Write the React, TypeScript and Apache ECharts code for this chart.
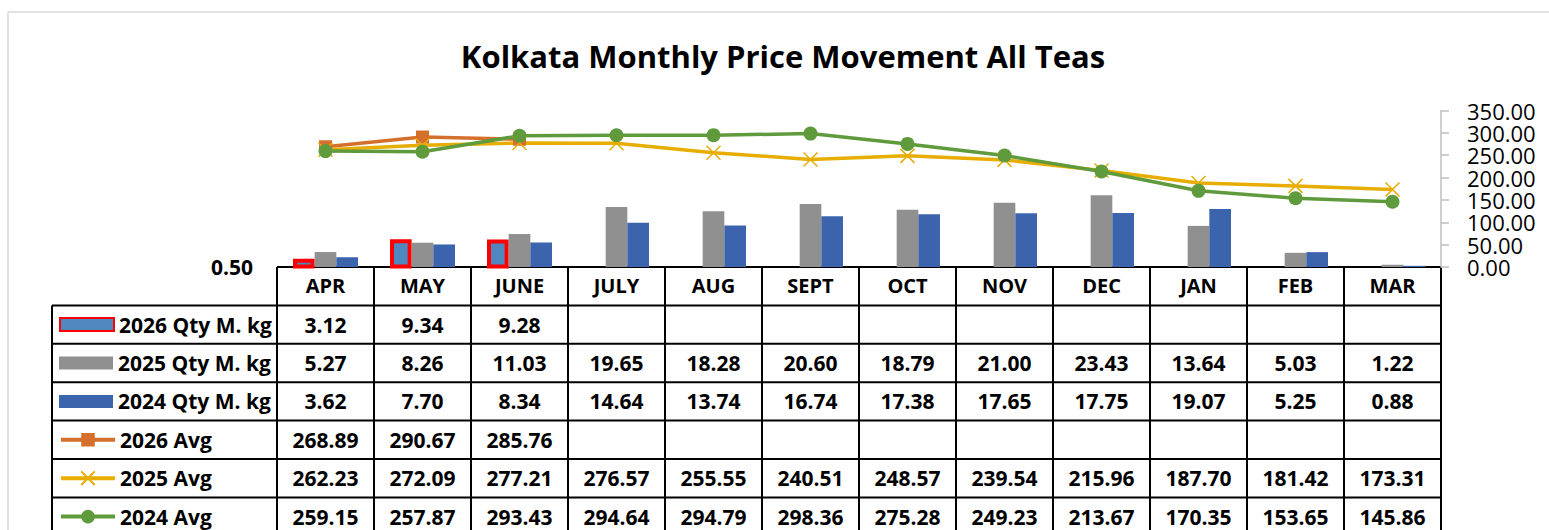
import React, { useEffect, useRef } from "react";
import * as echarts from "echarts";

const CATEGORIES = ["APR", "MAY", "JUNE", "JULY", "AUG", "SEPT", "OCT", "NOV", "DEC", "JAN", "FEB", "MAR"];
const QTY_2026: (number | null)[] = [3.12, 9.34, 9.28, null, null, null, null, null, null, null, null, null];
const QTY_2025: (number | null)[] = [5.27, 8.26, 11.03, 19.65, 18.28, 20.6, 18.79, 21.0, 23.43, 13.64, 5.03, 1.22];
const QTY_2024: (number | null)[] = [3.62, 7.7, 8.34, 14.64, 13.74, 16.74, 17.38, 17.65, 17.75, 19.07, 5.25, 0.88];
const AVG_2026: (number | null)[] = [268.89, 290.67, 285.76, null, null, null, null, null, null, null, null, null];
const AVG_2025: (number | null)[] = [262.23, 272.09, 277.21, 276.57, 255.55, 240.51, 248.57, 239.54, 215.96, 187.7, 181.42, 173.31];
const AVG_2024: (number | null)[] = [259.15, 257.87, 293.43, 294.64, 294.79, 298.36, 275.28, 249.23, 213.67, 170.35, 153.65, 145.86];
const SERIES_NAMES = ["2026 Qty M. kg", "2025 Qty M. kg", "2024 Qty M. kg", "2026 Avg", "2025 Avg", "2024 Avg"];
const TITLE = "Kolkata Monthly Price Movement All Teas";

const FONT = "'Open Sans', 'Noto Sans', sans-serif";
const W = 1549;
const H = 530;
const PLOT_L = 277;
const PLOT_R = 1441;
const PLOT_T = 110.5;
const BASE_Y = 267;
const TABLE_L = 52;
const ROW_H = 38.4;
const TABLE_FONT = 21;
const HEADER_FONT = 20;

const C_2026 = "#4f87be";
const C_RED = "#ff0000";
const C_GRAY = "#909090";
const C_BLUE = "#3c64ad";
const C_ORANGE = "#d4702c";
const C_YELLOW = "#e7ad00";
const C_GREEN = "#5f9a3c";

export default function App() {
  const ref = useRef<HTMLDivElement>(null);
  useEffect(() => {
    document.body.style.margin = "0";
    if (!ref.current) return;
    const chart = echarts.init(ref.current, null, { renderer: "svg" });

    const n = CATEGORIES.length;
    const colW = (PLOT_R - PLOT_L) / n;
    const rowsData = [QTY_2026, QTY_2025, QTY_2024, AVG_2026, AVG_2025, AVG_2024];
    const headerBottom = BASE_Y + ROW_H;
    const graphics: any[] = [];
    const borderStyle = { stroke: "#d9d9d9", lineWidth: 1.5 };
    graphics.push({ type: "line", shape: { x1: 8, y1: 12, x2: W, y2: 12 }, style: borderStyle, silent: true });
    graphics.push({ type: "line", shape: { x1: 8, y1: 12, x2: 8, y2: H }, style: borderStyle, silent: true });
    const lineStyle = { stroke: "#000", lineWidth: 2 };
    graphics.push({ type: "line", shape: { x1: PLOT_L, y1: BASE_Y, x2: PLOT_R, y2: BASE_Y }, style: lineStyle });
    for (let r = 0; r <= rowsData.length; r++) {
      const y = headerBottom + r * ROW_H;
      graphics.push({ type: "line", shape: { x1: TABLE_L, y1: y, x2: PLOT_R, y2: y }, style: lineStyle });
    }
    const tableBottom = headerBottom + rowsData.length * ROW_H;
    graphics.push({ type: "line", shape: { x1: TABLE_L, y1: headerBottom, x2: TABLE_L, y2: tableBottom }, style: lineStyle });
    for (let c = 0; c <= n; c++) {
      const x = PLOT_L + c * colW;
      graphics.push({ type: "line", shape: { x1: x, y1: BASE_Y, x2: x, y2: tableBottom }, style: lineStyle });
    }
    rowsData.forEach((arr, r) => {
      const cy = headerBottom + (r + 0.5) * ROW_H;
      arr.forEach((v, c) => {
        if (v == null) return;
        graphics.push({
          type: "text",
          x: PLOT_L + (c + 0.5) * colW,
          y: cy,
          style: {
            text: v.toFixed(2),
            font: `bold ${TABLE_FONT}px ${FONT}`,
            fill: "#000",
            align: "center",
            verticalAlign: "middle",
            textAlign: "center",
            textVerticalAlign: "middle",
          },
        });
      });
    });

    const legends = SERIES_NAMES.map((name, r) => {
      const isBar = r < 3;
      const ih = isBar ? 13 : 17;
      return {
        data: [isBar ? { name, icon: "rect" } : { name }],
        left: 59,
        top: headerBottom + (r + 0.5) * ROW_H - 11,
        orient: "horizontal",
        itemWidth: 54,
        itemHeight: ih,
        padding: 0,
        selectedMode: false,
        lineStyle: { width: 4 },
        textStyle: { fontFamily: FONT, fontWeight: "bold", fontSize: TABLE_FONT, color: "#000", lineHeight: 22 },
      };
    });

    chart.setOption({
      animation: false,
      title: {
        text: TITLE,
        left: 778,
        textAlign: "center",
        top: 35,
        textStyle: { fontFamily: FONT, fontWeight: "bold", fontSize: 31, color: "#000" },
      },
      legend: legends,
      grid: { left: PLOT_L, right: W - PLOT_R, top: PLOT_T, bottom: H - BASE_Y, containLabel: false },
      xAxis: {
        type: "category",
        data: CATEGORIES,
        axisLine: { show: false },
        axisTick: { show: false },
        axisLabel: { fontFamily: FONT, fontWeight: "bold", fontSize: HEADER_FONT, color: "#000", margin: 8 },
      },
      yAxis: [
        {
          type: "value",
          min: 0.5,
          max: 50.5,
          axisLine: { show: false },
          axisTick: { show: false },
          splitLine: { show: false },
          axisLabel: {
            showMinLabel: true,
            margin: 24,
            fontFamily: FONT,
            fontWeight: "bold",
            fontSize: TABLE_FONT,
            color: "#000",
            formatter: (v: number) => (Math.abs(v - 0.5) < 1e-6 ? "0.50" : ""),
          },
        },
        {
          type: "value",
          min: 0,
          max: 350,
          interval: 50,
          position: "right",
          axisLine: { show: true, lineStyle: { color: "#bfbfbf", width: 1.5 } },
          axisTick: { show: true, inside: false, length: 8, lineStyle: { color: "#bfbfbf", width: 1.5 } },
          splitLine: { show: false },
          axisLabel: {
            margin: 26,
            showMinLabel: true,
            showMaxLabel: true,
            hideOverlap: false,
            fontFamily: FONT,
            fontSize: 22,
            lineHeight: 22,
            color: "#000",
            formatter: (v: number) => v.toFixed(2),
          },
        },
      ],
      series: [
        {
          name: SERIES_NAMES[0],
          type: "bar",
          data: QTY_2026,
          barGap: "0%",
          barCategoryGap: "33%",
          itemStyle: { color: C_2026, borderColor: C_RED, borderWidth: 4 },
        },
        {
          name: SERIES_NAMES[1],
          type: "bar",
          data: QTY_2025,
          barGap: "0%",
          barCategoryGap: "33%",
          itemStyle: { color: C_GRAY },
        },
        {
          name: SERIES_NAMES[2],
          type: "bar",
          data: QTY_2024,
          barGap: "0%",
          barCategoryGap: "33%",
          itemStyle: { color: C_BLUE },
        },
        {
          name: SERIES_NAMES[3],
          type: "line",
          yAxisIndex: 1,
          data: AVG_2026,
          symbol: "rect",
          symbolSize: 13,
          lineStyle: { color: C_ORANGE, width: 3.5 },
          itemStyle: { color: C_ORANGE },
        },
        {
          name: SERIES_NAMES[4],
          type: "line",
          yAxisIndex: 1,
          data: AVG_2025,
          symbol: "path://M0,0L12,12M12,0L0,12",
          symbolSize: 14,
          lineStyle: { color: C_YELLOW, width: 3.5 },
          itemStyle: { color: "rgba(0,0,0,0)", borderColor: C_YELLOW, borderWidth: 1.5 },
        },
        {
          name: SERIES_NAMES[5],
          type: "line",
          yAxisIndex: 1,
          data: AVG_2024,
          symbol: "circle",
          symbolSize: 14,
          lineStyle: { color: C_GREEN, width: 3.5 },
          itemStyle: { color: C_GREEN },
        },
      ],
      graphic: graphics,
    });
    return () => chart.dispose();
  }, []);
  return <div ref={ref} style={{ width: W, height: H }} />;
}
